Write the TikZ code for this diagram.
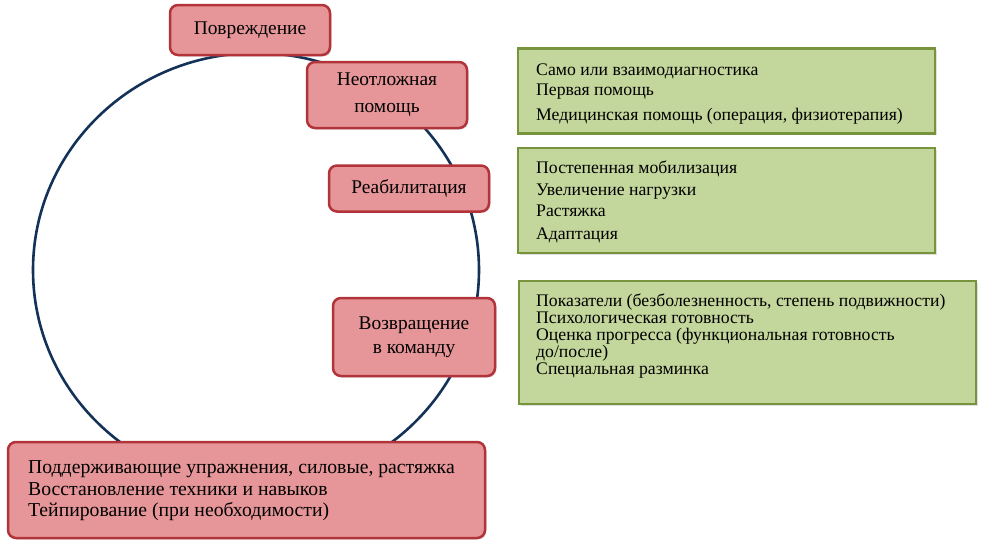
\documentclass[tikz,border=0pt]{standalone}
\usepackage{fontspec}
\setmainfont{Liberation Serif}
\usetikzlibrary{shadows}
\definecolor{redfill}{RGB}{230,150,152}
\definecolor{redline}{RGB}{178,52,58}
\definecolor{greenfill}{RGB}{195,214,155}
\definecolor{greenline}{RGB}{119,147,60}
\definecolor{ringcol}{RGB}{20,50,88}
\begin{document}
\begin{tikzpicture}[x=1pt,y=-1pt,
  redbox/.style={draw=redline, line width=2.5pt, fill=redfill, rounded corners=8pt,
    align=center, inner sep=0pt, font=\fontsize{19.4}{27}\selectfont,
    drop shadow={opacity=0.25, shadow xshift=1.5pt, shadow yshift=-1.5pt}},
  greenbox/.style={draw=greenline, line width=2.5pt, fill=greenfill, inner sep=0pt,
    drop shadow={opacity=0.25, shadow xshift=1.5pt, shadow yshift=-1.5pt}},
  itemtext/.style={anchor=west, align=left, inner sep=0pt, font=\fontsize{17.7}{20}\selectfont}
]
\useasboundingbox (0,0) rectangle (983,544);
\draw[ringcol, line width=2.6pt] (256,270) ellipse [x radius=223, y radius=217];

\node[redbox, minimum width=160pt, minimum height=50pt] (povr) at (250,30) {Повреждение};
\node[redbox, minimum width=160pt, minimum height=66pt] (neot) at (387,95) {Неотложная\\помощь};
\node[redbox, minimum width=160pt, minimum height=46pt] (reab) at (409,188.5) {Реабилитация};
\node[redbox, minimum width=162pt, minimum height=78pt, font=\fontsize{19.4}{24}\selectfont] (vozv) at (414,337) {Возвращение\\в команду};
\node[redbox, minimum width=477pt, minimum height=96pt] (podd) at (246.5,490) {};
\node[itemtext, font=\fontsize{19.7}{21.5}\selectfont] (poddt) at (28,491) {Поддерживающие упражнения, силовые, растяжка\\Восстановление техники и навыков\\Тейпирование (при необходимости)};

\node[greenbox, minimum width=417pt, minimum height=85pt] (g1) at (726.5,91) {};
\node[itemtext] (g1t) at (536,94) {Само или взаимодиагностика\\Первая помощь\\[5pt]Медицинская помощь (операция, физиотерапия)};

\node[greenbox, minimum width=417pt, minimum height=105pt] (g2) at (726.5,200.5) {};
\node[itemtext] (g2t) at (536,202) {Постепенная мобилизация\\[2pt]Увеличение нагрузки\\[1pt]Растяжка\\[3pt]Адаптация};

\node[greenbox, minimum width=457pt, minimum height=123pt] (g3) at (747.5,342.5) {};
\node[itemtext, font=\fontsize{17.7}{17}\selectfont] (g3t) at (536,336) {Показатели (безболезненность, степень подвижности)\\Психологическая готовность\\Оценка прогресса (функциональная готовность\\до/после)\\Специальная разминка};
\end{tikzpicture}
\end{document}
